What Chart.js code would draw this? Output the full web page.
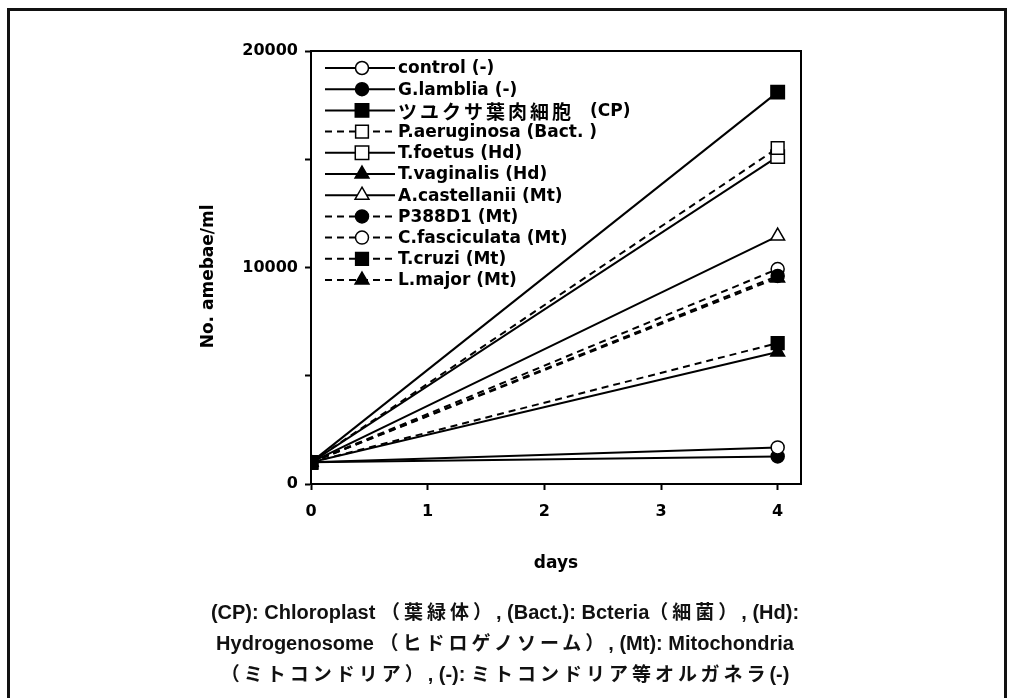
<!DOCTYPE html>
<html>
<head>
<meta charset="utf-8">
<title>No. amebae/ml</title>
<script src="https://cdn.jsdelivr.net/npm/chart.js"></script>
<style>
  body { margin: 0; background: #fff; overflow: hidden; }
  #wrap { position: relative; width: 1028px; height: 698px; }
  #frame { position: absolute; left: 7px; top: 8px; width: 994px; height: 720px; border: 3px solid #111; }
  #chart { position: absolute; left: 0; top: 0; }
  #caption { position: absolute; left: 110px; width: 790px; top: 596px; text-align: center;
    font: bold 20px "Liberation Sans", "Noto Sans CJK JP", sans-serif; line-height: 29px; color: #111; white-space: nowrap; }
  #caption .j { font-family: "Noto Sans CJK JP", sans-serif; font-size: 19px; letter-spacing: 4px; }
</style>
</head>
<body>
<div id="wrap">
  <div id="frame"></div>
  <canvas id="chart" width="1028" height="698"></canvas>
  <div id="caption">
    (CP): Chloroplast <span class="j">（葉緑体）</span>, (Bact.): Bcteria<span class="j">（細菌）</span>, (Hd):<br>
    Hydrogenosome <span class="j">（ヒドロゲノソーム）</span>, (Mt): Mitochondria<br>
    <span class="j">（ミトコンドリア）</span>, (-): <span class="j">ミトコンドリア等オルガネラ</span>(-)
  </div>
</div>
<script>
// data (cell counts at day 0 and day 4)
const days = [0, 4];
const control = [1000, 1690];
const gLamblia = [1000, 1275];
const tsuyukusa = [1000, 18100];
const pAeruginosa = [1000, 15520];
const tFoetus = [1000, 15120];
const tVaginalis = [1000, 6100];
const aCastellanii = [1000, 11450];
const p388d1 = [1000, 9610];
const cFasciculata = [1000, 9930];
const tCruzi = [1000, 6510];
const lMajor = [1000, 9520];

const labels = ['control (-)', 'G.lamblia (-)', 'ツユクサ葉肉細胞  (CP)', 'P.aeruginosa (Bact. )',
  'T.foetus (Hd)', 'T.vaginalis (Hd)', 'A.castellanii (Mt)', 'P388D1 (Mt)',
  'C.fasciculata (Mt)', 'T.cruzi (Mt)', 'L.major (Mt)'];
const yTicks = [0, 10000, 20000];

const FONT = '"DejaVu Sans", "Noto Sans CJK JP", sans-serif';
const DASH = [7, 5];

function series(label, values, style, filled, dashed, radius) {
  return {
    label: label,
    data: values.map((v, i) => ({ x: days[i], y: v })),
    borderColor: '#000',
    borderWidth: 2,
    borderDash: dashed ? DASH : [],
    pointStyle: style,
    pointRadius: radius,
    pointBorderWidth: 1.5,
    pointBorderColor: '#000',
    pointBackgroundColor: filled ? '#000' : '#fff',
    tension: 0
  };
}

const datasets = [
  series(labels[0], control, 'circle', false, false, 6.5),
  series(labels[1], gLamblia, 'circle', true, false, 6.5),
  series(labels[2], tsuyukusa, 'rect', true, false, 9.5),
  series(labels[3], pAeruginosa, 'rect', false, true, 9),
  series(labels[4], tFoetus, 'rect', false, false, 9.5),
  series(labels[5], tVaginalis, 'triangle', true, false, 8),
  series(labels[6], aCastellanii, 'triangle', false, false, 8),
  series(labels[7], p388d1, 'circle', true, true, 6.5),
  series(labels[8], cFasciculata, 'circle', false, true, 6.5),
  series(labels[9], tCruzi, 'rect', true, true, 9),
  series(labels[10], lMajor, 'triangle', true, true, 8)
];
datasets[2].order = -1;

// box around the plot + line/marker legend inside the plot
const framePlugin = {
  id: 'framePlugin',
  afterDatasetsDraw(chart) {
    const a = chart.chartArea;
    const ctx = chart.ctx;
    ctx.save();
    ctx.strokeStyle = '#000';
    ctx.lineWidth = 2;
    ctx.beginPath();
    ctx.moveTo(a.left, a.top);
    ctx.lineTo(a.right, a.top);
    ctx.lineTo(a.right, a.bottom);
    ctx.stroke();

    const x0 = a.left + 14, x1 = a.left + 84, mx = a.left + 51, tx = a.left + 87;
    const top = a.top + 17, step = 21.2;
    chart.data.datasets.forEach((ds, i) => {
      const y = top + i * step;
      ctx.strokeStyle = '#000';
      ctx.lineWidth = 2;
      ctx.setLineDash(ds.borderDash);
      ctx.beginPath();
      ctx.moveTo(x0, y);
      ctx.lineTo(x1, y);
      ctx.stroke();
      ctx.setLineDash([]);
      ctx.fillStyle = ds.pointBackgroundColor;
      ctx.lineWidth = ds.pointBorderWidth;
      Chart.helpers.drawPoint(ctx, { pointStyle: ds.pointStyle, radius: ds.pointRadius, borderWidth: ds.pointBorderWidth, rotation: 0 }, mx, y);
      ctx.fillStyle = '#000';
      ctx.textAlign = 'left';
      ctx.textBaseline = 'middle';
      const m = ds.label.match(/^([^\x00-\x7f]+)(\s*)(.*)$/);
      if (m) {
        // Japanese label: wider set, like the original
        ctx.font = 'bold 19px "Noto Sans CJK JP", sans-serif';
        if ('letterSpacing' in ctx) ctx.letterSpacing = '3px';
        ctx.fillText(m[1], tx, y + 1);
        const w = ctx.measureText(m[1]).width;
        if ('letterSpacing' in ctx) ctx.letterSpacing = '0px';
        ctx.font = 'bold 17px ' + FONT;
        ctx.fillText(m[3], tx + w + 16, y + 1);
      } else {
        ctx.font = 'bold 17px ' + FONT;
        ctx.fillText(ds.label, tx, y + 1);
      }
    });
    ctx.restore();
  }
};

new Chart(document.getElementById('chart'), {
  type: 'line',
  data: { datasets: datasets },
  options: {
    responsive: false,
    animation: false,
    devicePixelRatio: 1,
    layout: { padding: { left: 0, top: 51, right: 227, bottom: 114 } },
    plugins: { legend: { display: false }, tooltip: { enabled: false } },
    scales: {
      x: {
        type: 'linear',
        min: 0,
        max: 4.2,
        afterFit(s) { s.height = 100; },
        border: { display: true, color: '#000', width: 2 },
        grid: { drawOnChartArea: false, drawTicks: true, tickLength: 6, tickWidth: 2, tickColor: '#000' },
        ticks: { stepSize: 1, includeBounds: false, color: '#000', padding: 12, font: { family: FONT, size: 16, weight: 'bold' } },
        title: { display: true, text: 'days', color: '#000', padding: { top: 0, bottom: 10 }, font: { family: FONT, size: 17, weight: 'bold' } }
      },
      y: {
        min: 0,
        max: 20000,
        afterFit(s) { s.width = 311; },
        border: { display: true, color: '#000', width: 2 },
        grid: { drawOnChartArea: false, drawTicks: true, tickLength: 6, tickWidth: 2, tickColor: '#000' },
        ticks: {
          stepSize: 5000,
          color: '#000',
          padding: 7,
          font: { family: FONT, size: 16, weight: 'bold' },
          callback: v => yTicks.includes(v) ? String(v) : ''
        },
        title: { display: true, text: 'No. amebae/ml   ', color: '#000', padding: { top: 198, bottom: 0 }, font: { family: FONT, size: 17, weight: 'bold' } }
      }
    }
  },
  plugins: [framePlugin]
});
</script>
</body>
</html>
